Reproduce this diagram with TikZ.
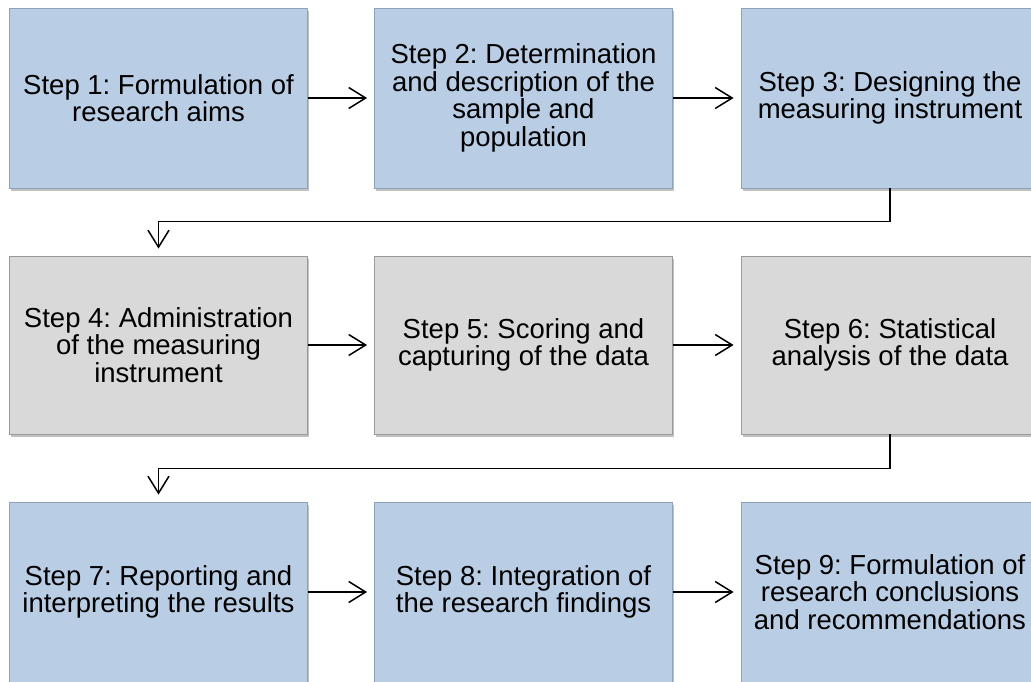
\documentclass[tikz,border=0pt]{standalone}
\usepackage{fontspec}
\setmainfont{Liberation Sans}
\usetikzlibrary{arrows.meta,shadows,calc}
\definecolor{boxblue}{HTML}{B9CDE5}
\definecolor{edgeblue}{HTML}{8FA2BC}
\definecolor{boxgray}{HTML}{D9D9D9}
\definecolor{edgegray}{HTML}{9A9A9A}
\frenchspacing
\tikzset{
  stepbox/.style={rectangle, minimum width=298pt, minimum height=180pt, inner sep=0pt,
    align=center, font=\fontsize{27.5}{27.5}\selectfont, line width=0.8pt,
    drop shadow={shadow xshift=1.5pt, shadow yshift=-2.5pt, opacity=0.35, fill=black!70}},
  bluebox/.style={stepbox, fill=boxblue, draw=edgeblue},
  graybox/.style={stepbox, fill=boxgray, draw=edgegray},
  conn/.style={line width=1.5pt, -{Straight Barb[length=17pt,width=21pt,line width=1.5pt]}, shorten >=7pt}
}
\begin{document}
\begin{tikzpicture}[x=1pt,y=-1pt]
\useasboundingbox (0,0) rectangle (1031,681);
\node[bluebox] (b1) at (158.5,98) {Step 1: Formulation of\\research aims};
\node[bluebox] (b2) at (523.5,98) {Step 2: Determination\\and description of the\\sample and\\population};
\node[bluebox] (b3) at (890,98) {Step 3: Designing the\\measuring instrument};
\node[graybox, minimum height=178pt] (b4) at (158.5,345) {Step 4: Administration\\of the measuring\\instrument};
\node[graybox, minimum height=178pt] (b5) at (523.5,345) {Step 5: Scoring and\\capturing of the data};
\node[graybox, minimum height=178pt] (b6) at (890,345) {Step 6: Statistical\\analysis of the data};
\node[bluebox] (b7) at (158.5,592) {Step 7: Reporting and\\interpreting the results};
\node[bluebox] (b8) at (523.5,592) {Step 8: Integration of\\the research findings};
\node[bluebox] (b9) at (890,592) {Step 9: Formulation of\\research conclusions\\and recommendations};
\draw[conn] (b1) -- (b2);
\draw[conn] (b2) -- (b3);
\draw[conn] (b4) -- (b5);
\draw[conn] (b5) -- (b6);
\draw[conn] (b7) -- (b8);
\draw[conn] (b8) -- (b9);
\draw[conn] (b3.south) -- ++(0,33) -| (b4.north);
\draw[conn] (b6.south) -- ++(0,34) -| (b7.north);
\end{tikzpicture}
\end{document}
